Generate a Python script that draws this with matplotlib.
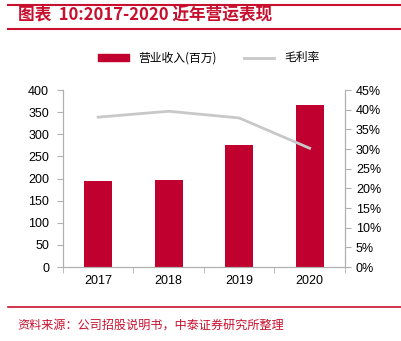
import matplotlib
matplotlib.use('Agg')
import matplotlib.pyplot as plt
from matplotlib.lines import Line2D
from matplotlib.ticker import FuncFormatter
import numpy as np

plt.rcParams['font.family'] = ['Liberation Sans', 'Noto Sans CJK SC', 'DejaVu Sans']

years = ['2017', '2018', '2019', '2020']
revenue = [194, 196, 276, 367]          # 营业收入(百万)
gross_margin = [38.1, 39.6, 37.9, 30.2]  # 毛利率 %

red = '#C0002E'
gray = '#C8C8C8'
axis_gray = '#B0B0B0'

fig = plt.figure(figsize=(4.01, 3.41), dpi=100)
ax = fig.add_axes([0.157, 0.217, 0.703, 0.519])
x = np.arange(len(years))
ax.bar(x, revenue, width=0.4, color=red, zorder=2)
ax.set_xlim(-0.5, len(years) - 0.5)
ax.set_ylim(0, 400)
ax.set_yticks(range(0, 401, 50))
ax.set_xticks(x)
ax.set_xticklabels(years)
ax.set_xticks(np.arange(-0.5, len(years), 1), minor=True)
ax.tick_params(axis='x', which='major', length=0, pad=6, labelsize=9)
ax.tick_params(axis='x', which='minor', length=4, color=axis_gray, direction='out')
ax.tick_params(axis='y', length=4, color=axis_gray, labelsize=9, pad=6)
ax.spines['top'].set_visible(False)
for s in ['left', 'bottom', 'right']:
    ax.spines[s].set_color(axis_gray)

ax2 = ax.twinx()
ax2.plot(x, gross_margin, color=gray, linewidth=2, zorder=3)
ax2.set_ylim(0, 45)
ax2.set_yticks(range(0, 46, 5))
ax2.yaxis.set_major_formatter(FuncFormatter(lambda v, p: f'{v:.0f}%'))
ax2.tick_params(axis='y', length=4, color=axis_gray, labelsize=9, pad=4)
ax2.spines['top'].set_visible(False)
for s in ['left', 'bottom', 'right']:
    ax2.spines[s].set_color(axis_gray)

handles = [plt.Rectangle((0, 0), 1, 1, color=red),
           Line2D([0], [0], color=gray, linewidth=2)]
fig.legend(handles, ['营业收入(百万)', '毛利率'], loc='center', bbox_to_anchor=(0.52, 0.83),
           ncol=2, frameon=False, handlelength=2.6, handleheight=0.6,
           columnspacing=2.3, prop={'family': ['Noto Sans CJK SC', 'DejaVu Sans'], 'size': 8.5})

# header and footer
fig.add_artist(Line2D([0.02, 1.0], [1 - 5 / 341, 1 - 5 / 341], color='#C8102E', linewidth=1.5))
fig.add_artist(Line2D([0.02, 1.0], [1 - 29 / 341, 1 - 29 / 341], color='#C8102E', linewidth=1.5))
fig.text(0.045, 1 - 16 / 341, '图表  10:2017-2020 近年营运表现', color='#C8102E', fontsize=12,
         fontweight='bold', fontstyle='italic', va='center',
         family=['Noto Sans CJK SC', 'DejaVu Sans'])
fig.add_artist(Line2D([0.02, 1.0], [1 - 307 / 341, 1 - 307 / 341], color='#C8102E', linewidth=1.2))
fig.text(0.043, 1 - 325 / 341, '资料来源：公司招股说明书，中泰证券研究所整理', color='#C8102E', fontsize=8.7,
         va='center', family=['Noto Sans CJK SC', 'DejaVu Sans'])

fig.savefig('out.png', dpi=100)
